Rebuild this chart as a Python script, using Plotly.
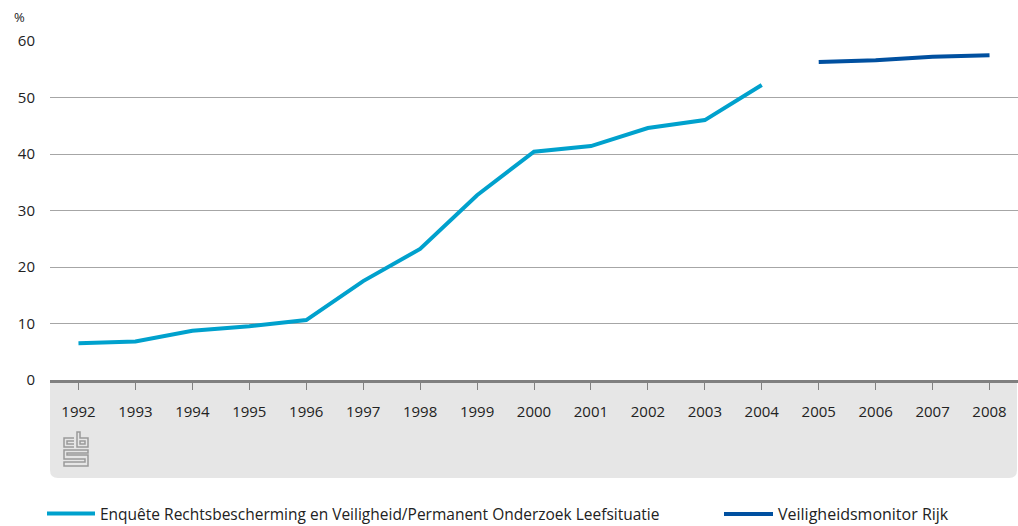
import plotly.graph_objects as go

years = [str(y) for y in range(1992, 2009)]
erv_years = years[:13]
erv_values = [6.5, 6.8, 8.7, 9.5, 10.6, 17.5, 23.2, 32.7, 40.4, 41.4, 44.6, 46.0, 52.2]
vmr_years = years[13:]
vmr_values = [56.3, 56.6, 57.2, 57.5]
y_ticks = [0, 10, 20, 30, 40, 50, 60]

W, H = 1018, 526
PL, PR, PT, PB = 50, 1018, 41, 380  # plot area in screen pixels
L, T, R, B = PL, PT, W - PR, H - PB
pw, ph = W - L - R, H - T - B

def px(x):
    return (x - PL) / pw

def py(y):
    return (PB - y) / ph

FONT = "Open Sans"
TXT = "#222222"

fig = go.Figure()
fig.add_trace(go.Scatter(
    x=erv_years, y=erv_values, mode="lines",
    line=dict(color="#00a1cd", width=4),
    name="Enquête Rechtsbescherming en Veiligheid/Permanent Onderzoek Leefsituatie",
    legend="legend",
))
fig.add_trace(go.Scatter(
    x=vmr_years, y=vmr_values, mode="lines",
    line=dict(color="#0050a0", width=4),
    name="Veiligheidsmonitor Rijk",
    legend="legend2",
))

shapes = []
# grey band under the axis with rounded bottom corners
x0, x1 = px(50), px(1017)
y0, y1 = py(381), py(478)
rx, ry = 8 / pw, 8 / ph
path = (f"M {x0},{y0} L {x1},{y0} L {x1},{y1 + ry} "
        f"Q {x1},{y1} {x1 - rx},{y1} L {x0 + rx},{y1} "
        f"Q {x0},{y1} {x0},{y1 + ry} Z")
shapes.append(dict(type="path", xref="paper", yref="paper", path=path,
                   fillcolor="#e6e6e6", line=dict(width=0), layer="below"))

def poly(pts, closed=False):
    s = "M " + " L ".join(f"{px(a)},{py(b)}" for a, b in pts)
    if closed:
        s += " Z"
    return s

logo_paths = [
    # c
    poly([(74, 438), (64, 438), (64, 447), (74, 447)]),
    poly([(74, 441), (67, 441), (67, 444), (74, 444)]),
    # b
    poly([(77, 432), (77, 447), (88, 447), (88, 438), (80, 438), (80, 432)], closed=True),
    poly([(80, 441), (85, 441), (85, 444), (80, 444)], closed=True),
    # S
    poly([(88, 450), (64, 450), (64, 459), (85, 459), (85, 462), (64, 462), (64, 466), (88, 466),
          (88, 455), (67, 455), (67, 453), (88, 453)], closed=True),
]
for p in logo_paths:
    shapes.append(dict(type="path", xref="paper", yref="paper", path=p,
                       line=dict(color="#9a9a9a", width=1.5)))

fig.update_layout(
    width=W, height=H,
    margin=dict(l=L, r=R, t=T, b=B, pad=0, autoexpand=False),
    paper_bgcolor="white", plot_bgcolor="white",
    font=dict(family=FONT, size=15, color=TXT),
    showlegend=True,
    legend=dict(orientation="h", x=px(42), xanchor="left", y=py(514), yanchor="middle",
                font=dict(family=FONT, size=15.5, color=TXT), itemwidth=48,
                bgcolor="rgba(0,0,0,0)"),
    legend2=dict(orientation="h", x=px(719), xanchor="left", y=py(514), yanchor="middle",
                 font=dict(family=FONT, size=16, color=TXT), itemwidth=49,
                 bgcolor="rgba(0,0,0,0)"),
    shapes=shapes,
    xaxis=dict(
        type="category", categoryorder="array", categoryarray=years,
        range=[-0.5, len(years) - 0.5],
        showgrid=False, showline=True, linecolor="#808080", linewidth=3,
        ticks="outside", ticklen=7, tickwidth=1, tickcolor="#808080",
        ticklabelstandoff=9, tickfont=dict(size=15, color=TXT),
        fixedrange=True,
    ),
    yaxis=dict(
        range=[0, 60], tickvals=y_ticks, showgrid=True, gridcolor="#a6a6a6", gridwidth=1,
        zeroline=False, showline=False, ticks="", ticklabelstandoff=14,
        tickfont=dict(size=15, color=TXT), fixedrange=True,
    ),
    annotations=[dict(text="%", xref="paper", yref="paper", x=px(12), y=py(17),
                      xanchor="left", yanchor="middle", showarrow=False,
                      font=dict(size=13, color=TXT))],
)

fig.write_html("out.html", config={"displayModeBar": False},
               post_script="document.body.style.margin='0px';"
                           "document.documentElement.style.overflow='hidden';")
